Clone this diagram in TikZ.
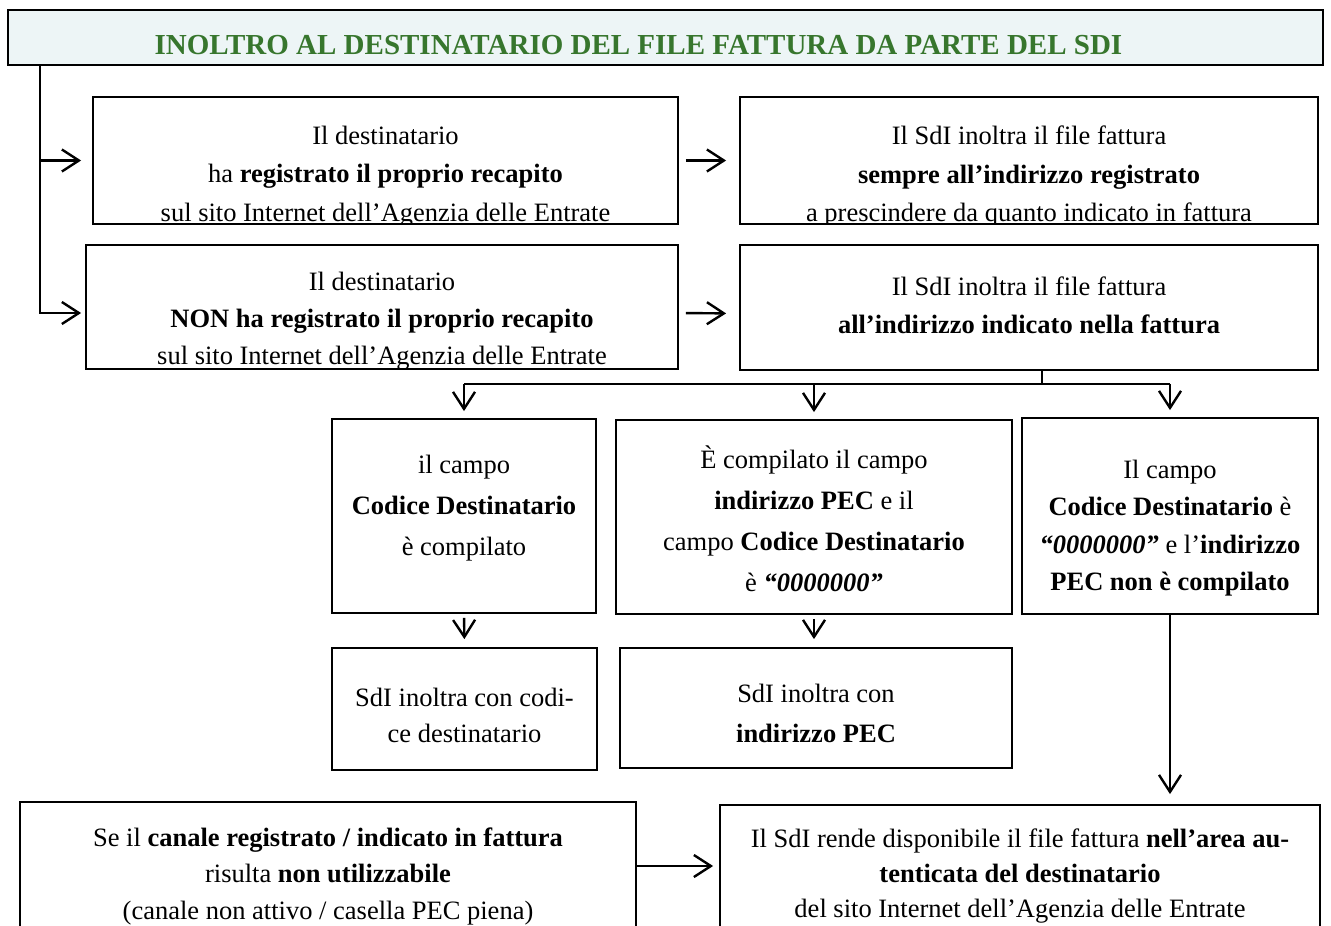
\documentclass[tikz,border=0pt]{standalone}
\usepackage{fontspec}
\setmainfont{Liberation Serif}
\usetikzlibrary{arrows.meta}
\usetikzlibrary{calc}

\definecolor{titlegreen}{RGB}{55,118,45}
\definecolor{titlefill}{RGB}{237,245,246}

\tikzset{
  box/.style={draw, line width=1.8pt, inner sep=0pt},
  txt/.style={inner sep=0pt, align=center, font=\fontsize{26.5}{#1}\selectfont},
  txt/.default=38.5,
  conn/.style={line width=2.4pt},
  arr/.style={conn, -{Straight Barb[length=17pt,width=22pt]}},
}

\begin{document}
\begin{tikzpicture}[x=1pt,y=-1pt]
        \useasboundingbox (0,0) rectangle (1331,926);
        \clip (0,0) rectangle (1331,926);

        % Title
        \node[box, fill=titlefill, minimum width=1315, minimum height=55, path picture={
            \node[inner sep=0pt, anchor=base, font=\fontsize{29}{34}\selectfont\bfseries, text=titlegreen] (title-t)
              at ([xshift=-27,yshift=11]path picture bounding box.south)
              {INOLTRO AL DESTINATARIO DEL FILE FATTURA DA PARTE DEL SDI};
          }] (title) at (665.5,37.5) {};

        % First row
        \node[box, minimum width=585, minimum height=127, path picture={
            \node[txt] (regsi-t) at ([yshift=-16]path picture bounding box.center)
              {Il destinatario\\ ha \textbf{registrato il proprio recapito}\\ sul sito Internet dell’Agenzia delle Entrate};
          }] (regsi) at (385.5,160.5) {};
        \node[box, minimum width=578, minimum height=127, path picture={
            \node[txt] (sempre-t) at ([yshift=-16]path picture bounding box.center)
              {Il SdI inoltra il file fattura\\ \textbf{sempre all’indirizzo registrato}\\ a prescindere da quanto indicato in fattura};
          }] (sempre) at (1029,160.5) {};

        % Second row
        \node[box, minimum width=592, minimum height=124, path picture={
            \node[txt=37] (nonreg-t) at ([yshift=-14]path picture bounding box.center)
              {Il destinatario\\ \textbf{NON ha registrato il proprio recapito}\\ sul sito Internet dell’Agenzia delle Entrate};
          }] (nonreg) at (382,307) {};
        \node[box, minimum width=578, minimum height=125, path picture={
            \node[txt] (indicato-t) at ([yshift=2]path picture bounding box.center)
              {Il SdI inoltra il file fattura\\ \textbf{all’indirizzo indicato nella fattura}};
          }] (indicato) at (1029,307.5) {};

        % Third row
        \node[box, minimum width=264, minimum height=194, path picture={
            \node[txt=41] (campocod-t) at ([yshift=8]path picture bounding box.center)
              {il campo\\ \textbf{Codice Destinatario}\\ è compilato};
          }] (campocod) at (464,516) {};
        \node[box, minimum width=396, minimum height=194, path picture={
            \node[txt=41] (campopec-t) at ([yshift=-2]path picture bounding box.center)
              {È compilato il campo\\ \textbf{indirizzo PEC} e il\\ campo \textbf{Codice Destinatario}\\ è \textbf{\textit{“0000000”}}};
          }] (campopec) at (814,517) {};
        \node[box, minimum width=296, minimum height=196, path picture={
            \node[txt=37.5] (campozero-t) at ([yshift=-12]path picture bounding box.center)
              {Il campo\\ \textbf{Codice Destinatario} è\\ \textbf{\textit{“0000000”}} e l’\textbf{indirizzo}\\ \textbf{PEC non è compilato}};
          }] (campozero) at (1170,516) {};

        % Fourth row
        \node[box, minimum width=265, minimum height=122, path picture={
            \node[txt=36] (concod-t) at ([yshift=-6]path picture bounding box.center)
              {SdI inoltra con codi-\\ ce destinatario};
          }] (concod) at (464.5,709) {};
        \node[box, minimum width=392, minimum height=120, path picture={
            \node[txt=40] (conpec-t) at ([yshift=-5]path picture bounding box.center)
              {SdI inoltra con\\ \textbf{indirizzo PEC}};
          }] (conpec) at (816,708) {};

        % Bottom row
        \node[box, minimum width=616, minimum height=148, path picture={
            \node[txt=36.5] (noutil-t) at ([yshift=0]path picture bounding box.center)
              {Se il \textbf{canale registrato / indicato in fattura}\\ risulta \textbf{non utilizzabile}\\ (canale non attivo / casella PEC piena)};
          }] (noutil) at (328,876) {};
        \node[box, minimum width=600, minimum height=145, path picture={
            \node[txt=35] (areaaut-t) at ([yshift=1.5]path picture bounding box.center)
              {Il SdI rende disponibile il file fattura \textbf{nell’area au-}\\ \textbf{tenticata del destinatario}\\ del sito Internet dell’Agenzia delle Entrate};
          }] (areaaut) at (1020,877.5) {};

        % Trunk from the title
        \coordinate (trunk) at ([xshift=33]title.south west);
        \draw[arr, shorten >=4] (trunk) |- ([yshift=-6]nonreg.west);
        \draw[arr, shorten >=11] (trunk |- regsi.west) -- (regsi.west);

        % Row arrows
        \draw[arr, shorten <=7, shorten >=13] (regsi.east) -- (sempre.west);
        \draw[arr, shorten <=7, shorten >=13] ([yshift=-6]nonreg.east) -- ([yshift=-6]indicato.west);

        % Split under the second answer
        \coordinate (bus) at ([xshift=13,yshift=-13]indicato.south);
        \draw[conn] ([xshift=13]indicato.south) -- (bus);
        \draw[conn] (bus -| campocod.north) -- (bus -| campozero.north);
        \foreach \n in {campocod,campopec,campozero}
            \draw[arr, shorten >=7] (bus -| \n.north) -- (\n.north);

        % Down to the results
        \draw[arr, shorten <=4, shorten >=8] (campocod.south) -- (concod.north);
        \draw[arr, shorten <=4, shorten >=8] (campopec.south) -- (campopec.south |- conpec.north);
        \draw[arr, shorten >=10] (campozero.south) -- (campozero.south |- areaaut.north);

        % Fallback
        \coordinate (fallback) at ([yshift=10]noutil.east);
        \draw[arr, shorten >=6] (fallback) -- (fallback -| areaaut.west);

\end{tikzpicture}
\end{document}
